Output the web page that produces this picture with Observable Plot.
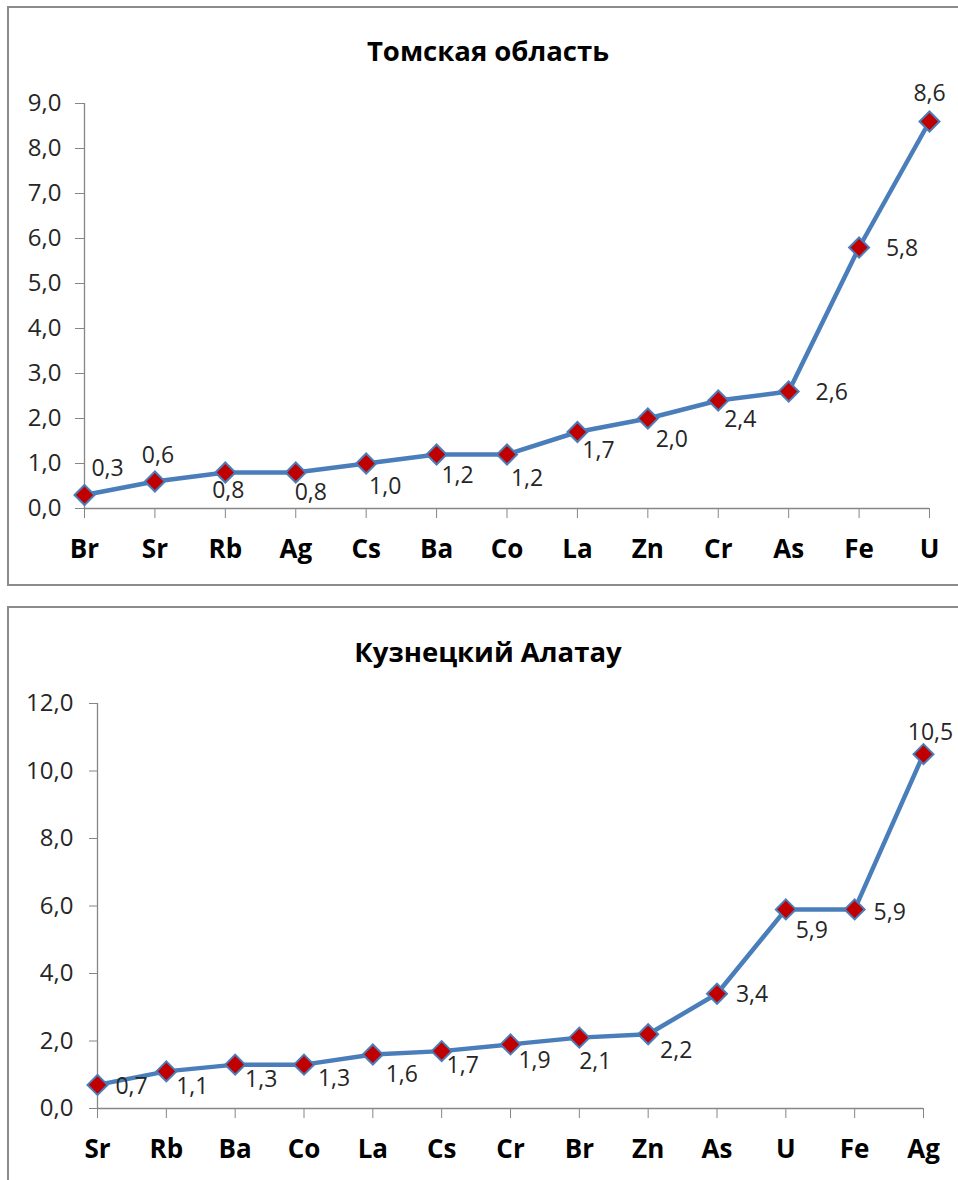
<!DOCTYPE html>
<html>
<head>
<meta charset="utf-8">
<script src="https://cdn.jsdelivr.net/npm/d3@7"></script>
<script src="https://cdn.jsdelivr.net/npm/@observablehq/plot@0.6"></script>
<style>
  html, body { margin: 0; padding: 0; background: #fff; }
  body { position: relative; width: 958px; height: 1180px; overflow: hidden; font-family: "Open Sans", sans-serif; }
  .panel { position: absolute; left: 7px; width: 1000px; border: 2px solid #8c8c8c; border-right: none; box-sizing: border-box; }
  #panel1 { top: 6px; height: 580px; }
  #panel2 { top: 606px; height: 700px; }
  .title { position: absolute; left: 0; width: 976px; text-align: center; font-weight: 700; font-size: 27.5px; line-height: 27px; color: #000; }
  #title1 { top: 37px; }
  #title2 { top: 638px; }
  .chart { position: absolute; left: 0; }
  #chart1 { top: 0; }
  #chart2 { top: 600px; }
</style>
</head>
<body>
<div class="panel" id="panel1"></div>
<div class="panel" id="panel2"></div>
<div class="title" id="title1">Томская область</div>
<div class="title" id="title2">Кузнецкий Алатау</div>
<div class="chart" id="chart1"></div>
<div class="chart" id="chart2"></div>
<script>
// Томская область — elements ordered by value
const tomskElements = ["Br", "Sr", "Rb", "Ag", "Cs", "Ba", "Co", "La", "Zn", "Cr", "As", "Fe", "U"];
const tomskValues = [0.3, 0.6, 0.8, 0.8, 1.0, 1.2, 1.2, 1.7, 2.0, 2.4, 2.6, 5.8, 8.6];
const tomskTicks = [0, 1, 2, 3, 4, 5, 6, 7, 8, 9];

// Кузнецкий Алатау — elements ordered by value
const kuznElements = ["Sr", "Rb", "Ba", "Co", "La", "Cs", "Cr", "Br", "Zn", "As", "U", "Fe", "Ag"];
const kuznValues = [0.7, 1.1, 1.3, 1.3, 1.6, 1.7, 1.9, 2.1, 2.2, 3.4, 5.9, 5.9, 10.5];
const kuznTicks = [0, 2, 4, 6, 8, 10, 12];

// Pixel nudges of each value label from its marker, [dx, dy]
const tomskLabelNudge = [[23, -26], [3, -26], [3, 18], [15, 20], [19, 23], [21, 21], [20, 24], [21, 19], [24, 21], [22, 19], [43, 1], [43, 1], [0, -28]];
const kuznLabelNudge = [[34, 2], [26, 15], [26, 15], [30, 14], [29, 20], [21, 14], [24, 16], [16, 24], [28, 16], [35, 1], [26, 21], [35, 3], [7, -22]];

const comma1 = v => v.toFixed(1).replace(".", ",");
const axisGray = "#868686";
const lineBlue = "#4A7EBB";
const markerRed = "#C00000";
const textDark = "#262626";

function profile({elements, values, ticks, nudges, height, margins, yMax, yTickSize, yTickPadding}) {
  const rows = elements.map((el, i) => ({el, v: values[i]}));
  const labels = rows.map((d, i) => Plot.text([d], {
    x: "el", y: "v", text: r => comma1(r.v),
    dx: nudges[i][0], dy: nudges[i][1],
    textAnchor: "middle", lineAnchor: "middle",
    fontSize: 23, fill: textDark
  }));
  return Plot.plot({
    width: 958,
    height,
    ...margins,
    style: {background: "transparent", fontFamily: "'Open Sans', sans-serif", overflow: "visible"},
    x: {type: "point", domain: elements, padding: 0, round: false, label: null},
    y: {domain: [0, yMax], label: null},
    marks: [
      Plot.ruleY([0], {stroke: axisGray, strokeWidth: 1.3}),
      Plot.ruleX([elements[0]], {stroke: axisGray, strokeWidth: 1.3}),
      Plot.axisY({ticks, tickFormat: comma1, tickSize: yTickSize, tickPadding: yTickPadding,
        stroke: axisGray, fill: textDark, fontSize: 24, label: null}),
      Plot.axisX({tickSize: 10, tickPadding: 21, stroke: axisGray, fill: "#000",
        fontSize: 26, fontWeight: "bold", label: null}),
      Plot.line(rows, {x: "el", y: "v", stroke: lineBlue, strokeWidth: 4.5, strokeLinejoin: "round"}),
      Plot.dot(rows, {x: "el", y: "v", symbol: "diamond2", r: 9, fill: markerRed, stroke: lineBlue, strokeWidth: 2}),
      ...labels
    ]
  });
}

document.getElementById("chart1").append(profile({
  elements: tomskElements, values: tomskValues, ticks: tomskTicks, nudges: tomskLabelNudge,
  height: 585, margins: {marginLeft: 84, marginRight: 29, marginTop: 103, marginBottom: 77},
  yMax: 9, yTickSize: 9, yTickPadding: 14
}));

document.getElementById("chart2").append(profile({
  elements: kuznElements, values: kuznValues, ticks: kuznTicks, nudges: kuznLabelNudge,
  height: 580, margins: {marginLeft: 97, marginRight: 35, marginTop: 103, marginBottom: 72},
  yMax: 12, yTickSize: 8, yTickPadding: 16
}));
</script>
</body>
</html>
